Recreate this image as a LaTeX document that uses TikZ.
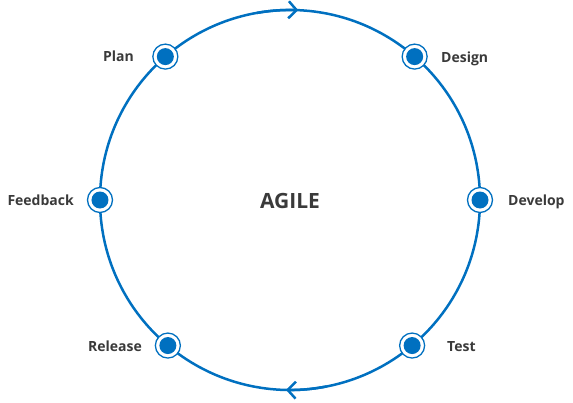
\documentclass[tikz,border=0pt]{standalone}
\usepackage{fontspec}
\setmainfont{Open Sans}
\usetikzlibrary{arrows.meta}
\definecolor{agileblue}{RGB}{0,112,192}
\definecolor{labelgray}{RGB}{58,58,58}

\begin{document}
\begin{tikzpicture}[x=1pt, y=1pt,
  ring/.style={circle, draw=agileblue, line width=1.3pt, fill=white, minimum size=25pt, inner sep=0pt},
  dot/.style={circle, fill=agileblue, minimum size=17pt, inner sep=0pt},
  lbl/.style={font=\bfseries\fontsize{14}{16}\selectfont, text=labelgray, inner sep=0pt},
  flow/.style={draw=agileblue, line width=2.5pt},
  barb/.style={-{Straight Barb[length=8pt, width=17pt]}}]
\useasboundingbox (-290,-202) rectangle (283,200);

% Ciclo
\coordinate (c) at (0,0);
\draw[flow] (c) circle (190);
\draw[flow, barb] (100:190) arc[start angle=100, end angle=87.5, radius=190];
\draw[flow, barb] (281:190) arc[start angle=281, end angle=268.8, radius=190];

% Marcadores das fases
\foreach \a/\n in {131/plan, 49/design, 0/develop, 310/test, 230/release, 180/feedback} {
  \node[ring] (m-\n) at (\a:190) {};
  \node[dot] (d-\n) at (m-\n) {};
}

% Nomes das fases
\node[lbl, anchor=base east] (l-plan) at (-156,139) {Plan};
\node[lbl, anchor=base west] (l-design) at (151,137.5) {Design};
\node[lbl, anchor=base west] (l-develop) at (218,-5) {Develop};
\node[lbl, anchor=base west] (l-test) at (157,-151) {Test};
\node[lbl, anchor=base east] (l-release) at (-148,-151.5) {Release};
\node[lbl, anchor=base east] (l-feedback) at (-216,-5) {Feedback};

% Centro
\node[font=\bfseries\fontsize{21}{24}\selectfont, text=labelgray, inner sep=0pt, anchor=base] (agile) at (0,-8) {AGILE};

\end{tikzpicture}
\end{document}
